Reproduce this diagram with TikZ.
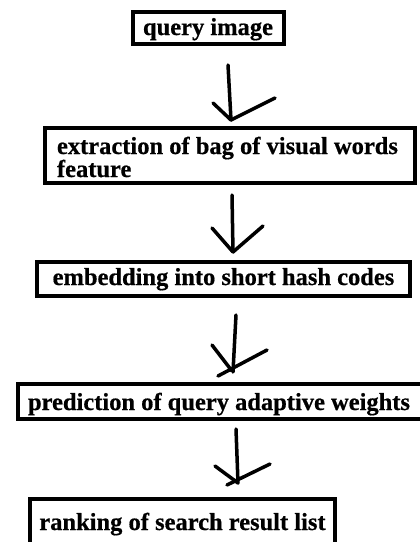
\documentclass[tikz,border=0pt]{standalone}
\usepackage{fontspec}
\setmainfont{Liberation Serif}[BoldFeatures={FakeBold=0.6}]
\begin{document}
\begin{tikzpicture}[x=1pt,y=-1pt,
  stage/.style={draw=black,line width=4pt,rectangle,inner ysep=0pt,
    font=\bfseries\fontsize{24.5}{23}\selectfont},
  hand/.style={draw=black,line width=3.5pt,line cap=round,line join=round}]
\clip (0,0) rectangle (420,542);
\fill[white] (0,0) rectangle (420,542);
% boxes
\node[stage,text height=17pt,text depth=3pt,minimum width=151pt,minimum height=32pt,inner xsep=0pt] (q) at (208,28) {query image};
\node[stage,text height=18pt,text depth=21pt,text width=346pt,inner xsep=12pt,align=flush left,minimum height=55pt] (e) at (230,155.5)
  {extraction of bag of visual words\\feature};
\node[stage,text height=16pt,text depth=4pt,minimum width=373pt,minimum height=34pt,inner xsep=0pt] (h) at (223.5,279) {embedding into short hash codes};
\node[stage,text height=18pt,text depth=1pt,text width=402pt,inner xsep=10pt,align=flush left,minimum height=35pt] (p) at (229,401.5)
  {prediction of query adaptive weights};
\node[stage,text height=19pt,text depth=3pt,minimum width=305pt,minimum height=46pt,inner xsep=0pt] (r) at (182.5,522) {ranking of search result list};
% hand-drawn arrows
\draw[hand] ([shift={(20,19)}]q.south) -- ([shift={(1,-6)}]e.north);
\draw[hand] ([shift={(-17,-23)}]e.north) -- ([shift={(1,-6)}]e.north) -- ([shift={(45,-28)}]e.north);
\draw[hand] ([shift={(2,10)}]e.south) -- ([shift={(9.5,-8)}]h.north);
\draw[hand] ([shift={(-11.5,-32)}]h.north) -- ([shift={(9.5,-8)}]h.north) -- ([shift={(39.5,-34)}]h.north);
\draw[hand] ([shift={(12.5,17)}]h.south) -- ([shift={(4,-10)}]p.north);
\draw[hand] ([shift={(-17,-37)}]p.north) -- ([shift={(3,-11)}]p.north);
\draw[hand] ([shift={(38,-32)}]p.north) -- ([shift={(-11,-6)}]p.north);
\draw[hand] ([shift={(7,8)}]p.south) -- ([shift={(55.5,-14)}]r.north);
\draw[hand] ([shift={(32.5,-31)}]r.north) -- ([shift={(55.5,-14)}]r.north);
\draw[hand] ([shift={(87.5,-33)}]r.north) -- ([shift={(44.5,-12)}]r.north);
\end{tikzpicture}
\end{document}
